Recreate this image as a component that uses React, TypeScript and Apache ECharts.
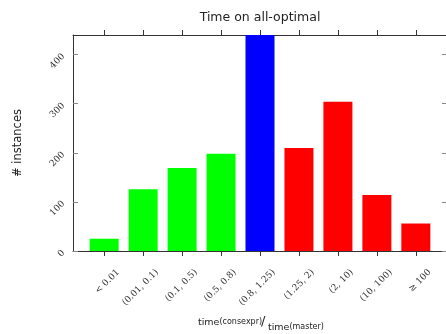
import React, { useEffect, useRef } from "react";
import * as echarts from "echarts";

const categories = [
  "< 0.01",
  "(0.01, 0.1)",
  "(0.1, 0.5)",
  "(0.5, 0.8)",
  "(0.8, 1.25)",
  "(1.25, 2)",
  "(2, 10)",
  "(10, 100)",
  "≥ 100",
];
const instances = [25, 126, 169, 198, 440, 210, 304, 114, 56];
// group of each bin: faster / similar / slower
const groups = ["faster", "faster", "faster", "faster", "similar", "slower", "slower", "slower", "slower"];
const yTicks = [0, 100, 200, 300, 400];

const groupColor: Record<string, string> = {
  faster: "#00ff00",
  similar: "#0000ff",
  slower: "#ff0000",
};

export default function App() {
  const ref = useRef<HTMLDivElement>(null);
  useEffect(() => {
    const chart = echarts.init(ref.current!, null, { renderer: "svg" });
    const idx = categories.map((_, i) => i);
    const xMin = -0.8;
    const xMax = categories.length - 1 + 0.8;
    const axisColor = "#333";
    const tickColor = "#888";
    const serif = "DejaVu Serif";
    const sans = "DejaVu Sans";
    const line = { show: true, onZero: false, lineStyle: { color: axisColor, width: 1 } };
    chart.setOption({
      animation: false,
      title: {
        text: "Time on all-optimal",
        left: 255,
        textAlign: "center",
        top: 5,
        textStyle: { fontFamily: sans, fontSize: 12.5, fontWeight: "normal", color: "#222" },
      },
      grid: { left: 73, top: 35, width: 374, height: 216, outerBoundsMode: "none", containLabel: false },
      xAxis: [
        {
          type: "value",
          min: xMin,
          max: xMax,
          position: "bottom",
          splitLine: { show: false },
          axisLine: line,
          axisTick: { show: true, inside: false, length: 5, customValues: idx, lineStyle: { color: axisColor } },
          axisLabel: {
            // empty placeholder labels at both ends absorb ECharts' min/max overlap check
            customValues: [xMin, ...idx, xMax],
            rotate: 45,
            margin: 6,
            verticalAlign: "top",
            lineHeight: 38,
            hideOverlap: false,
            fontFamily: serif,
            fontSize: 9,
            color: "#333",
            formatter: (v: number) =>
              Number.isInteger(v) ? categories[v] ?? "" : "",
          },
        },
        {
          type: "value",
          min: xMin,
          max: xMax,
          position: "top",
          splitLine: { show: false },
          axisLine: line,
          axisTick: { show: true, inside: false, length: 5, customValues: idx, lineStyle: { color: axisColor } },
          axisLabel: { show: false },
        },
      ],
      yAxis: [
        {
          type: "value",
          min: 0,
          max: 440,
          interval: 100,
          position: "left",
          splitLine: { show: false },
          axisLine: line,
          axisTick: { show: true, inside: true, length: 5, customValues: yTicks, lineStyle: { color: tickColor } },
          axisLabel: {
            customValues: yTicks,
            rotate: 45,
            margin: 10,
            showMinLabel: true,
            fontFamily: serif,
            fontSize: 9,
            color: "#333",
          },
          name: "# instances",
          nameLocation: "middle",
          nameGap: 50,
          nameTextStyle: { fontFamily: sans, fontSize: 11.5, color: "#222" },
        },
        {
          type: "value",
          min: 0,
          max: 440,
          interval: 100,
          position: "right",
          splitLine: { show: false },
          axisLine: line,
          axisTick: { show: true, inside: true, length: 5, customValues: yTicks, lineStyle: { color: tickColor } },
          axisLabel: { show: false },
        },
      ],
      series: [
        {
          type: "bar",
          xAxisIndex: 0,
          yAxisIndex: 0,
          barWidth: 29,
          clip: true,
          data: instances.map((v, i) => ({
            value: [i, v],
            itemStyle: { color: groupColor[groups[i]] },
          })),
        },
      ],
      graphic: [
        {
          type: "text",
          left: 198,
          top: 316,
          style: {
            text: "{a|time}{b|(consexpr)}",
            rich: {
              a: { fontFamily: sans, fontSize: 9.5, fill: "#222" },
              b: { fontFamily: sans, fontSize: 8, fill: "#222" },
            },
          },
        },
        {
          type: "text",
          left: 261,
          top: 314,
          style: { text: "/", fontFamily: sans, fontSize: 13, fill: "#222" },
        },
        {
          type: "text",
          left: 268,
          top: 321,
          style: {
            text: "{a|time}{b|(master)}",
            rich: {
              a: { fontFamily: sans, fontSize: 9.5, fill: "#222" },
              b: { fontFamily: sans, fontSize: 8, fill: "#222" },
            },
          },
        },
      ],
    });
    return () => chart.dispose();
  }, []);
  return <div ref={ref} style={{ position: "fixed", left: 0, top: 0, width: 446, height: 334 }} />;
}
